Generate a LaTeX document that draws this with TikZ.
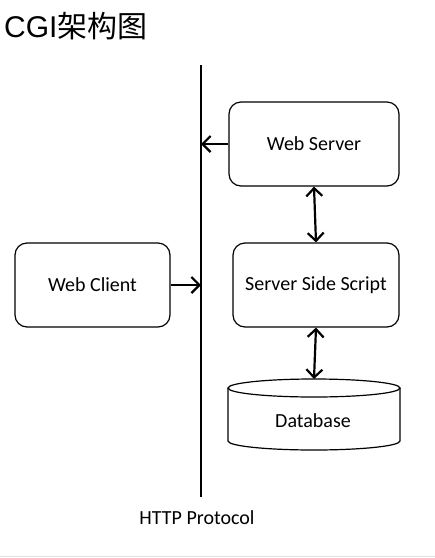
\documentclass[tikz,border=0pt]{standalone}
\usepackage{fontspec}
\setmainfont{Carlito}
\newfontfamily\titlefont{Liberation Sans}
\newfontfamily\cjk{Noto Sans CJK SC}
\usetikzlibrary{arrows.meta,calc}

\tikzset{
	box/.style={draw,line width=1.2pt,rounded corners=12pt,font=\fontsize{20}{23}\selectfont},
	arr/.style={line width=2.2pt,-{Straight Barb[length=8pt,width=16pt]}},
	dblarr/.style={line width=2.2pt,{Straight Barb[length=8pt,width=16pt]}-{Straight Barb[length=8pt,width=16pt]}}
}

\begin{document}
\begin{tikzpicture}[x=1pt,y=-1pt]
			\useasboundingbox (0,0) rectangle (435,558);
			% title
			\node[anchor=base west,inner sep=0pt,font=\fontsize{30}{33}\selectfont] (title) at (4,37)
			{\titlefont CGI\cjk 架构图};
			% protocol line
			\coordinate (ptop) at (201,65);
			\coordinate (pbot) at (201,497);
			\draw[line width=2pt] (ptop) -- (pbot);
			\node[font=\fontsize{20}{23}\selectfont] (http) at (197,518) {HTTP Protocol};
			% boxes
			\node[box,minimum width=170pt,minimum height=84pt] (server) at (314,144) {Web Server};
			\node[box,minimum width=166pt,minimum height=84pt] (script) at (316,285) {Server Side Script};
			\node[box,minimum width=155pt,minimum height=84pt] (client) at (92.5,285) {Web Client};
			% database cylinder
			\def\dbl{228} \def\dbr{400} \def\dbt{388} \def\dbb{441} \def\dbry{9}
			\coordinate (dbtop) at ({(\dbl+\dbr)/2},{\dbt-\dbry});
			\draw[line width=1.2pt] (\dbl,\dbt) -- (\dbl,\dbb)
				arc[start angle=180,end angle=360,x radius={(\dbr-\dbl)/2},y radius=-\dbry]
				-- (\dbr,\dbt);
			\draw[line width=1.2pt] ({(\dbl+\dbr)/2},\dbt) ellipse[x radius={(\dbr-\dbl)/2},y radius=\dbry];
			\node[font=\fontsize{20}{23}\selectfont] (db) at (313,421) {Database};
			% connectors
			\draw[arr] (client.east) -- (client.east -| ptop);
			\draw[arr] (server.west) -- (server.west -| ptop);
			\draw[dblarr] (server.south) -- (script.north);
			\draw[dblarr] (script.south) -- (dbtop);
			% bottom rule
			\draw[black!12,line width=1pt] (0,556) -- (435,556);
		\end{tikzpicture}
\end{document}
